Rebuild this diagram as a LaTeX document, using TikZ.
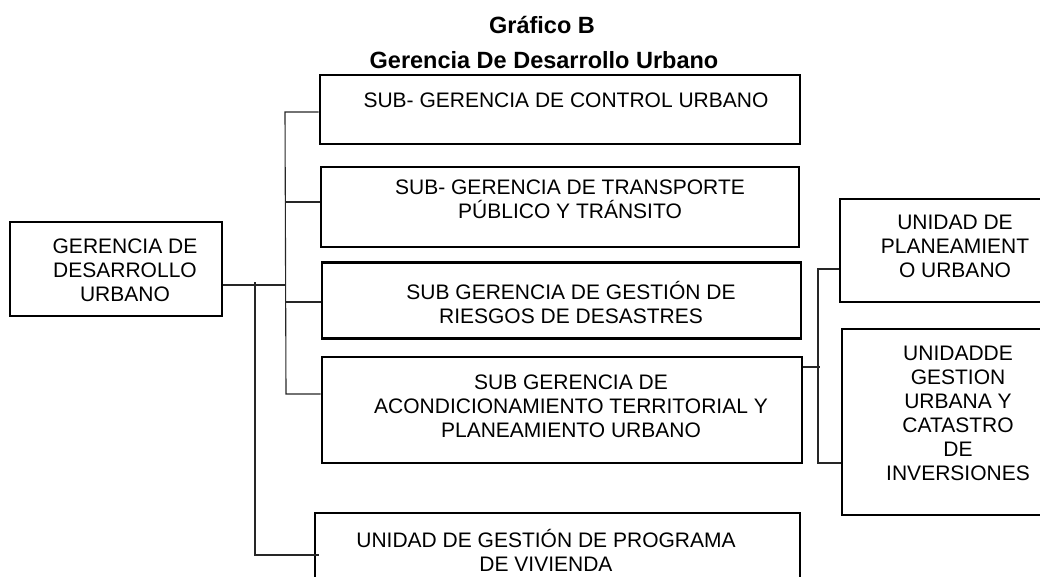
\documentclass[tikz,border=0pt]{standalone}
\usepackage{fontspec}
\setmainfont{Liberation Sans}
\begin{document}
\begin{tikzpicture}[x=1pt,y=-1pt,
  box/.style={draw=black, line width=2.8pt, rectangle, inner sep=0pt},
  txt/.style={align=center, font=\fontsize{21}{24}\selectfont, inner sep=0pt},
  ttl/.style={font=\bfseries\fontsize{23.5}{26}\selectfont, inner sep=0pt, anchor=base},
  conn/.style={line width=1.1pt, draw=black!85}]
\clip (0,0) rectangle (1040,576);
% title
\node[ttl] (t1) at (542,33) {Gráfico B};
\node[ttl] (t2) at (544,68) {Gerencia De Desarrollo Urbano};
% boxes
\node[box, minimum width=212pt, minimum height=94pt] (ger) at (116,269) {};
\node[txt] (tger) at (125,270) {GERENCIA DE\\DESARROLLO\\URBANO};
\node[box, minimum width=480pt, minimum height=69pt] (b1) at (560,109.5) {};
\node[txt] (tb1) at (566,100) {SUB- GERENCIA DE CONTROL URBANO};
\node[box, minimum width=478pt, minimum height=80pt] (b2) at (560,207) {};
\node[txt] (tb2) at (570,199) {SUB- GERENCIA DE TRANSPORTE\\PÚBLICO Y TRÁNSITO};
\node[box, minimum width=479pt, minimum height=76pt] (b3) at (561.5,300.5) {};
\node[txt] (tb3) at (571,302) {SUB GERENCIA DE GESTIÓN DE\\RIESGOS DE DESASTRES};
\node[box, minimum width=480pt, minimum height=106pt] (b4) at (562,410) {};
\node[txt] (tb4) at (571,406) {SUB GERENCIA DE\\ACONDICIONAMIENTO TERRITORIAL Y\\PLANEAMIENTO URBANO};
\node[box, minimum width=485pt, minimum height=87pt] (b5) at (557.5,556.5) {};
\node[txt] (tb5) at (546,550) {UNIDAD DE GESTIÓN DE PROGRAMA\\DE VIVIENDA};
\node[box, minimum width=220pt, minimum height=103pt] (r1) at (950,250.5) {};
\node[txt] (tr1) at (955,246) {UNIDAD DE\\PLANEAMIENT\\O URBANO};
\node[box, minimum width=218pt, minimum height=186pt] (r2) at (951,422) {};
\node[txt] (tr2) at (958,413) {UNIDADDE\\GESTION\\URBANA Y\\CATASTRO\\DE\\INVERSIONES};
% connectors
\coordinate (m0) at (285,285);
\coordinate (bt) at (285,112);
\coordinate (bb) at (286,394);
\coordinate (k2) at (285,202);
\coordinate (k3) at (286,302);
\draw[conn] (ger.east |- m0) -- (m0);
\draw[conn] (b1.west |- bt) -- (bt) -- (bb) -- (b4.west |- bb);
\draw[conn] (k2) -- (b2.west |- k2);
\draw[conn] (k3) -- (b3.west |- k3);
\coordinate (v0) at (255,282);
\coordinate (v1) at (255,555);
\draw[conn] (v0) -- (v1) -- ([xshift=5pt]b5.west |- v1);
\coordinate (r0) at (820,367);
\coordinate (rt) at (818,269);
\coordinate (rb) at (818,463);
\draw[conn] (b4.east |- r0) -- (r0);
\draw[conn] (r1.west |- rt) -- (rt) -- (rb) -- (r2.west |- rb);
\end{tikzpicture}
\end{document}
